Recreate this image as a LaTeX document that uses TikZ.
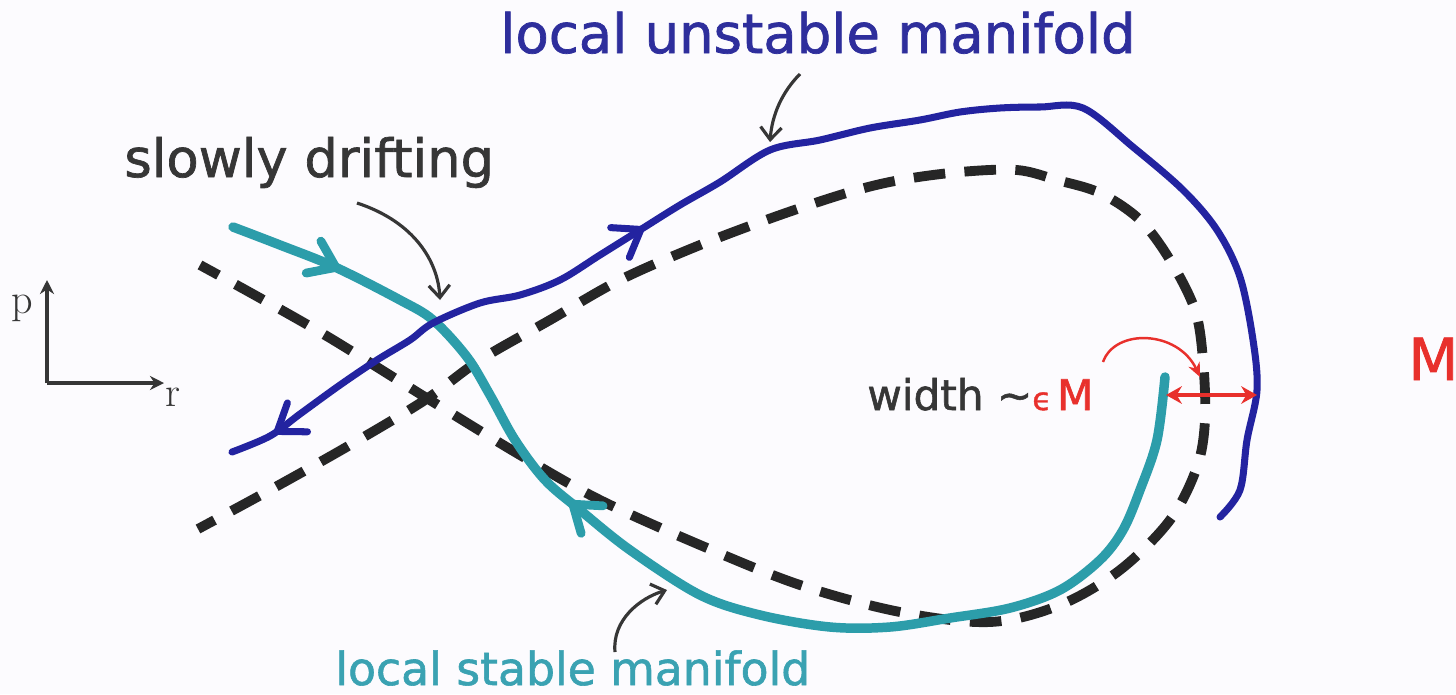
\documentclass[tikz,border=0pt]{standalone}
\usepackage{fontspec}
\newfontfamily\dvsans[FakeBold=1.3]{DejaVu Sans}
\usepackage{xcolor}
\definecolor{paperWhite}{HTML}{FCFBFE}
\definecolor{unsBlue}{HTML}{2323A0}
\definecolor{unsText}{HTML}{2E2E9C}
\definecolor{stTeal}{HTML}{2C9DAA}
\definecolor{stText}{HTML}{3AA2B2}
\definecolor{epsRed}{HTML}{E8302C}
\definecolor{noteGray}{HTML}{363636}
\usepackage{tikz}
\usetikzlibrary{arrows.meta,decorations.markings}
% hand-drawn chevron on a curve: colour, width, direction (1 forward, -1 back)
\newcommand{\chevron}[3]{\draw[#1, line width=#2, line cap=round, line join=miter]
  (-#3*14pt,10pt) -- (0pt,0pt) -- (-#3*14pt,-10pt);}

\begin{document}
\begin{tikzpicture}[x=0.02cm, y=-0.02cm, >=Stealth,
    unstable/.style={unsBlue, line width=4pt, line cap=round, line join=round},
    stable/.style={stTeal, line width=5.4pt, line cap=round, line join=round},
    sepx/.style={black!85, line width=5.6pt, dash pattern=on 18pt off 11pt, dash phase=6pt},
    note/.style={noteGray, line width=1.8pt, -{Straight Barb[length=7pt,width=12pt]}},
    axisline/.style={noteGray, line width=2.2pt, -{Stealth[length=8pt,width=8pt]}},
    lbl/.style={inner sep=0pt, anchor=base west}]
  \fill[paperWhite] (0,0) rectangle (1456,694);
  \useasboundingbox (0,0) rectangle (1456,694);

  % ---- axes ----
  \coordinate (orig) at (47,383);
  \coordinate (pTip) at (47,280);
  \coordinate (rTip) at (164,383);
  \draw[axisline] (orig) -- (pTip);
  \draw[axisline] (orig) -- (rTip);
  \node[lbl, font=\fontsize{24}{28}\selectfont, text=noteGray] (pLbl) at (11,313) {p};
  \node[lbl, font=\fontsize{24}{28}\selectfont, text=noteGray] (rLbl) at (165,406) {r};

  % ---- separatrix loop, dashed ----
  \draw[sepx] plot[smooth, tension=0.55] coordinates {
    (200,265) (260,298) (330,338) (425,397) (520,455) (600,500) (700,545)
    (800,585) (900,612) (990,622) (1060,605) (1120,570) (1170,520) (1197,467)
    (1205,420) (1203,360) (1195,310) (1170,260) (1140,220) (1100,193) (1057,180)
    (1017,170) (960,172) (900,180) (850,192) (780,215) (700,245) (620,280)
    (550,320) (480,360) (425,400) (350,445) (270,490) (198,529)};

  % ---- local stable manifold ----
  \draw[stable, postaction={decorate}, decoration={markings,
      mark=at position 0.09 with {\chevron{stTeal}{5pt}{1}},
      mark=at position 0.37 with {\chevron{stTeal}{5pt}{-1}}}]
    plot[smooth, tension=0.55] coordinates {
    (233,227) (280,245) (335,267) (400,300) (433,320) (467,357) (490,395)
    (515,440) (545,480) (580,510) (630,550) (700,595) (760,615) (830,627)
    (890,627) (950,618) (1010,608) (1060,590) (1100,560) (1123,530) (1140,490)
    (1157,440) (1165,377)};

  % ---- local unstable manifold ----
  \draw[unstable, postaction={decorate}, decoration={markings,
      mark=at position 0.035 with {\chevron{unsBlue}{4pt}{-1}},
      mark=at position 0.33 with {\chevron{unsBlue}{4pt}{1}}}]
    plot[smooth, tension=0.55] coordinates {
    (232,452) (270,436) (300,414) (340,385) (377,360) (410,340) (433,323)
    (480,303) (520,295) (560,280) (600,255) (640,230) (680,205) (720,182)
    (770,150) (820,140) (870,128) (920,120) (960,112) (1000,108) (1040,107)
    (1083,108) (1133,147) (1183,190) (1217,230) (1240,277) (1253,340)
    (1257,390) (1247,440) (1240,490) (1220,517)};

  % ---- labels and pointers ----
  \node[lbl, font=\dvsans\fontsize{31}{36}\selectfont, text=unsText] (unsLbl) at (500,53) {local unstable manifold};
  \node[lbl, font=\dvsans\fontsize{30}{35}\selectfont, text=noteGray] (driftLbl) at (124,177) {slowly drifting};
  \node[lbl, font=\dvsans\fontsize{26}{30}\selectfont, text=stText] (stLbl) at (335,685) {local stable manifold};
  \coordinate (unsFrom) at (800,74);
  \coordinate (unsTo) at (770,142);
  \draw[note] (unsFrom) .. controls (782,92) and (772,115) .. (unsTo);
  \coordinate (driftFrom) at (357,203);
  \coordinate (driftTo) at (440,300);
  \draw[note] (driftFrom) .. controls (415,222) and (438,262) .. (driftTo);
  \coordinate (stFrom) at (615,652);
  \coordinate (stTo) at (667,590);
  \draw[note] (stFrom) .. controls (612,620) and (640,598) .. (stTo);

  % ---- width ~ eps M ----
  \node[lbl, font=\dvsans\fontsize{24}{28}\selectfont, text=noteGray] (widthLbl) at (867,410)
    {width \textasciitilde\textcolor{epsRed}{\fontsize{18}{20}\selectfont ϵ\,}\textcolor{epsRed}{M}};
  \coordinate (curlFrom) at (1103,362);
  \coordinate (curlTo) at (1200,377);
  \draw[epsRed, line width=1.4pt, -{Stealth[length=8pt,width=7pt]}]
    (curlFrom) .. controls (1115,328) and (1178,330) .. (curlTo);
  \coordinate (stEnd) at (1166,395);
  \coordinate (unsEdge) at (1257,395);
  \draw[epsRed, line width=2.6pt, {Stealth[length=9pt,width=10pt]}-{Stealth[length=9pt,width=10pt]}]
    (stEnd) -- (unsEdge);
  \node[lbl, font=\dvsans\fontsize{33}{38}\selectfont, text=epsRed] (bigM) at (1408,380) {M};
\end{tikzpicture}
\end{document}
